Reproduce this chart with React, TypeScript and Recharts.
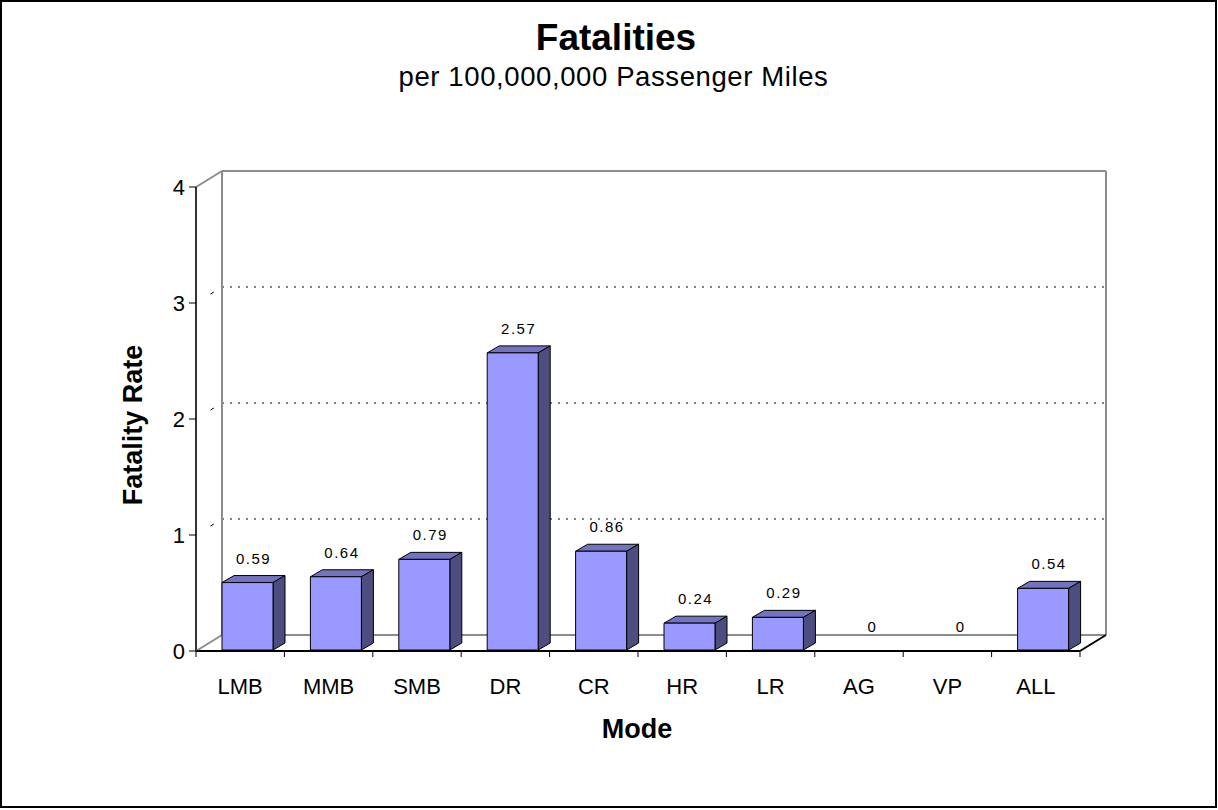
import React from "react";
import {
  Bar,
  BarChart,
  CartesianGrid,
  LabelList,
  XAxis,
  YAxis,
  usePlotArea,
} from "recharts";

const categories = ["LMB", "MMB", "SMB", "DR", "CR", "HR", "LR", "AG", "VP", "ALL"];
const fatalityRates = [0.59, 0.64, 0.79, 2.57, 0.86, 0.24, 0.29, 0, 0, 0.54];
const rateTicks = [0, 1, 2, 3, 4];

const data = categories.map((mode, i) => ({ mode, rate: fatalityRates[i] }));

// depth of the back wall and of each bar (excel-style 3d)
const WALL_DX = 26;
const WALL_DY = -16;
const BAR_DX = 12;
const BAR_DY = -7;
const BAR_SHIFT = 7;

const FONT = "'Liberation Sans', Arial, sans-serif";

const Wall = () => {
  const pa = usePlotArea();
  if (!pa) return null;
  const { x, y, width: w, height: h } = pa;
  const gray = "#8c8c8c";
  return (
    <g>
      <line x1={x + WALL_DX} y1={y + WALL_DY} x2={x + WALL_DX} y2={y + h + WALL_DY} stroke={gray} strokeWidth={2} />
      <line x1={x + w + WALL_DX} y1={y + WALL_DY} x2={x + w + WALL_DX} y2={y + h + WALL_DY} stroke={gray} strokeWidth={2} />
      <line x1={x + WALL_DX} y1={y + WALL_DY} x2={x + w + WALL_DX} y2={y + WALL_DY} stroke={gray} strokeWidth={2} />
      <line x1={x + WALL_DX} y1={y + h + WALL_DY} x2={x + w + WALL_DX} y2={y + h + WALL_DY} stroke={gray} strokeWidth={2} />
      <line x1={x} y1={y} x2={x + WALL_DX} y2={y + WALL_DY} stroke={gray} strokeWidth={2} />
      <line x1={x} y1={y + h} x2={x + WALL_DX} y2={y + h + WALL_DY} stroke={gray} strokeWidth={2} />
      <line x1={x + w} y1={y + h} x2={x + w + WALL_DX} y2={y + h + WALL_DY} stroke="#000" strokeWidth={2} />
    </g>
  );
};

const gridLine = (props: any) => {
  const { x1, x2, y1, index } = props;
  if (index === 0 || index === rateTicks.length - 1) return <g key={props.key} />;
  return (
    <g key={props.key}>
      <line
        x1={x1 + WALL_DX}
        y1={y1 + WALL_DY}
        x2={x2 + WALL_DX}
        y2={y1 + WALL_DY}
        stroke="#000"
        strokeWidth={1}
        strokeDasharray="2 6"
      />
      <line
        x1={x1}
        y1={y1}
        x2={x1 + WALL_DX}
        y2={y1 + WALL_DY}
        stroke="#000"
        strokeWidth={1}
        strokeDasharray="0 17 4 100"
      />
    </g>
  );
};

const Bar3D = (props: any) => {
  const { x, y, width, height } = props;
  if (!height || height <= 0) return null;
  const fx = x + BAR_SHIFT;
  const bottom = y + height - 1;
  return (
    <g stroke="#000" strokeWidth={1} strokeLinejoin="round">
      <polygon
        points={`${fx},${y} ${fx + BAR_DX},${y + BAR_DY} ${fx + width + BAR_DX},${y + BAR_DY} ${fx + width},${y}`}
        fill="#7373bf"
      />
      <polygon
        points={`${fx + width},${y} ${fx + width + BAR_DX},${y + BAR_DY} ${fx + width + BAR_DX},${bottom + BAR_DY} ${fx + width},${bottom}`}
        fill="#4d4d80"
      />
      <rect x={fx} y={y} width={width} height={bottom - y} fill="#9999ff" />
    </g>
  );
};

const valueLabel = (props: any) => {
  const { x, y, width, value } = props;
  return (
    <text
      x={x + width / 2 + BAR_SHIFT + BAR_DX / 2}
      y={y + BAR_DY - 12}
      textAnchor="middle"
      fontFamily={FONT}
      fontSize={15}
      letterSpacing={1.5}
      fill="#000"
    >
      {String(value)}
    </text>
  );
};

const ModeTick = (props: any) => {
  const { x, y, payload, index } = props;
  const half = payload.offset || 44.2;
  return (
    <g>
      {index === 0 && <line x1={x - half} y1={y} x2={x - half} y2={y + 6} stroke="#000" />}
      <line x1={x + half} y1={y} x2={x + half} y2={y + 6} stroke="#000" />
      <text x={x} y={y + 43} textAnchor="middle" fontFamily={FONT} fontSize={22} fill="#000">
        {payload.value}
      </text>
    </g>
  );
};

export default function App() {
  return (
    <div
      style={{
        position: "absolute",
        left: 0,
        top: 0,
        width: 1218,
        height: 810,
        background: "#fff",
        fontFamily: FONT,
      }}
    >
      <div
        style={{
          position: "absolute",
          left: 0,
          top: 0,
          width: 1217,
          height: 808,
          border: "2px solid #000",
          boxSizing: "border-box",
        }}
      />
      <div style={{ position: "absolute", left: 0, width: 1232, top: 17, textAlign: "center", fontSize: 37, fontWeight: "bold" }}>
        Fatalities
      </div>
      <div style={{ position: "absolute", left: 0, width: 1227, top: 61, textAlign: "center", fontSize: 27.5, letterSpacing: 0.6 }}>
        per 100,000,000 Passenger Miles
      </div>
      <div
        style={{
          position: "absolute",
          left: 133,
          top: 425,
          transform: "translate(-50%, -50%) rotate(-90deg)",
          whiteSpace: "nowrap",
          fontSize: 27,
          fontWeight: "bold",
        }}
      >
        Fatality Rate
      </div>
      <div style={{ position: "absolute", left: 0, width: 1274, top: 714, textAlign: "center", fontSize: 27, fontWeight: "bold" }}>
        Mode
      </div>
      <div style={{ position: "absolute", left: 0, top: 0 }}>
        <BarChart
          width={1218}
          height={810}
          data={data}
          margin={{ top: 187, right: 138, left: 156, bottom: 129 }}
        >
          <Wall />
          <CartesianGrid vertical={false} horizontal={gridLine} />
          <XAxis
            dataKey="mode"
            height={30}
            axisLine={{ stroke: "#000", strokeWidth: 2 }}
            tickLine={false}
            tickSize={0}
            tickMargin={0}
            tick={<ModeTick />}
            interval={0}
          />
          <YAxis
            width={40}
            domain={[0, 4]}
            ticks={rateTicks}
            axisLine={{ stroke: "#333", strokeWidth: 2 }}
            tickLine={{ stroke: "#000" }}
            tickSize={7}
            tickMargin={4}
            tick={{ fontSize: 22, fill: "#000", fontFamily: FONT }}
          />
          <Bar dataKey="rate" barSize={51} shape={<Bar3D />} isAnimationActive={false}>
            <LabelList dataKey="rate" content={valueLabel} />
          </Bar>
        </BarChart>
      </div>
    </div>
  );
}
